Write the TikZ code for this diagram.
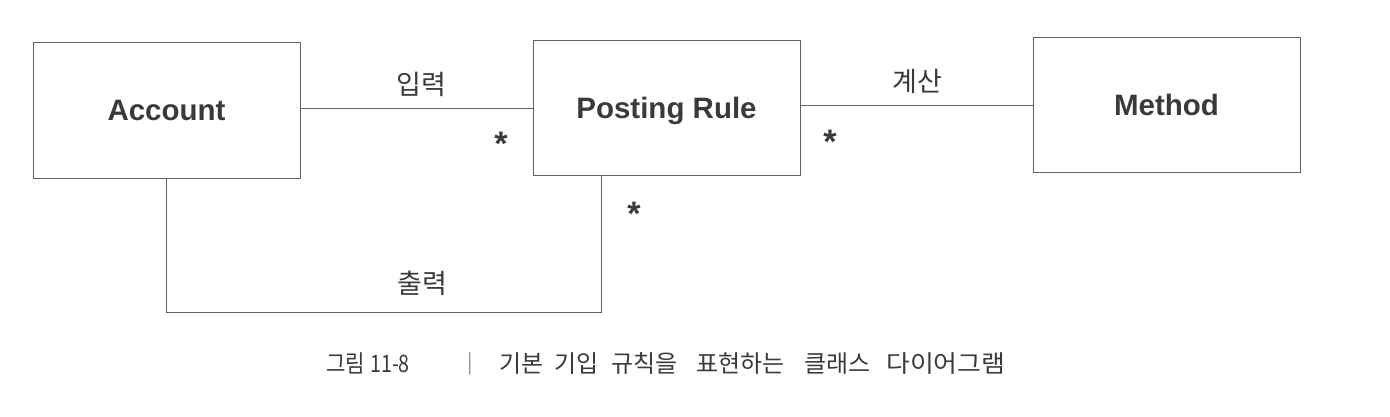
\documentclass[tikz,border=0pt]{standalone}
\usepackage{fontspec}
\usepackage{graphicx}
\setmainfont{Liberation Sans}
\newfontfamily\kr{Noto Sans CJK KR}
\definecolor{linec}{HTML}{626262}
\definecolor{textc}{HTML}{3A3A3A}
\definecolor{barc}{HTML}{8A8A8A}
\begin{document}
\begin{tikzpicture}[x=1pt,y=-1pt,
  box/.style={draw=linec, line width=1pt, minimum width=267pt, inner sep=0pt,
    font=\fontsize{29.5}{30}\selectfont\bfseries, text=textc, text height=21pt, text depth=0pt},
  conn/.style={draw=linec, line width=1pt},
  lbl/.style={font=\kr\fontsize{27}{30}\selectfont, text=textc, inner sep=0pt},
  mult/.style={font=\fontsize{34}{34}\selectfont\bfseries, text=textc, inner sep=0pt, anchor=base},
  captext/.style={font=\kr\fontsize{24}{26}\selectfont, text=textc, inner sep=0pt, anchor=base west}]
\useasboundingbox (0,0) rectangle (1390,416);
\node[box, minimum height=136pt] (acc) at (166.5,110) {Account};
\node[box, minimum height=135pt] (pr) at (666.5,107.5) {Posting Rule};
\node[box, minimum height=135pt] (meth) at (1166.5,104.5) {Method};
\coordinate (y1) at (0,108);
\coordinate (y2) at (0,105);
\coordinate (ob) at (601,312);
\draw[conn] (acc.east |- y1) -- (pr.west |- y1);
\draw[conn] (pr.east |- y2) -- (meth.west |- y2);
\draw[conn] (acc.south) |- (ob) -- (ob |- pr.south);
\node[lbl] (l1) at (421,84) {입력};
\node[lbl] (l2) at (917,81) {계산};
\node[lbl] (l3) at (422,283) {출력};
\node[mult] (m1) at (501,155) {*};
\node[mult] (m2) at (830,153) {*};
\node[mult] (m3) at (634,225) {*};
\node[captext] (c1) at (326,372) {\scalebox{0.88}[1]{그림}};
\node[captext] (c1b) at (370,372) {\scalebox{0.82}[1]{11-8}};
\node[captext, text=barc, anchor=base, font=\kr\fontsize{20}{22}\selectfont] (c2) at (470,369) {|};
\node[captext] (w1) at (499,372) {기본};
\node[captext] (w2) at (554,372) {기입};
\node[captext] (w3) at (611,372) {규칙을};
\node[captext] (w4) at (696,372) {표현하는};
\node[captext] (w5) at (804,372) {클래스};
\node[captext] (w6) at (886,372) {\scalebox{1.08}[1]{다이어그램}};
\end{tikzpicture}
\end{document}
